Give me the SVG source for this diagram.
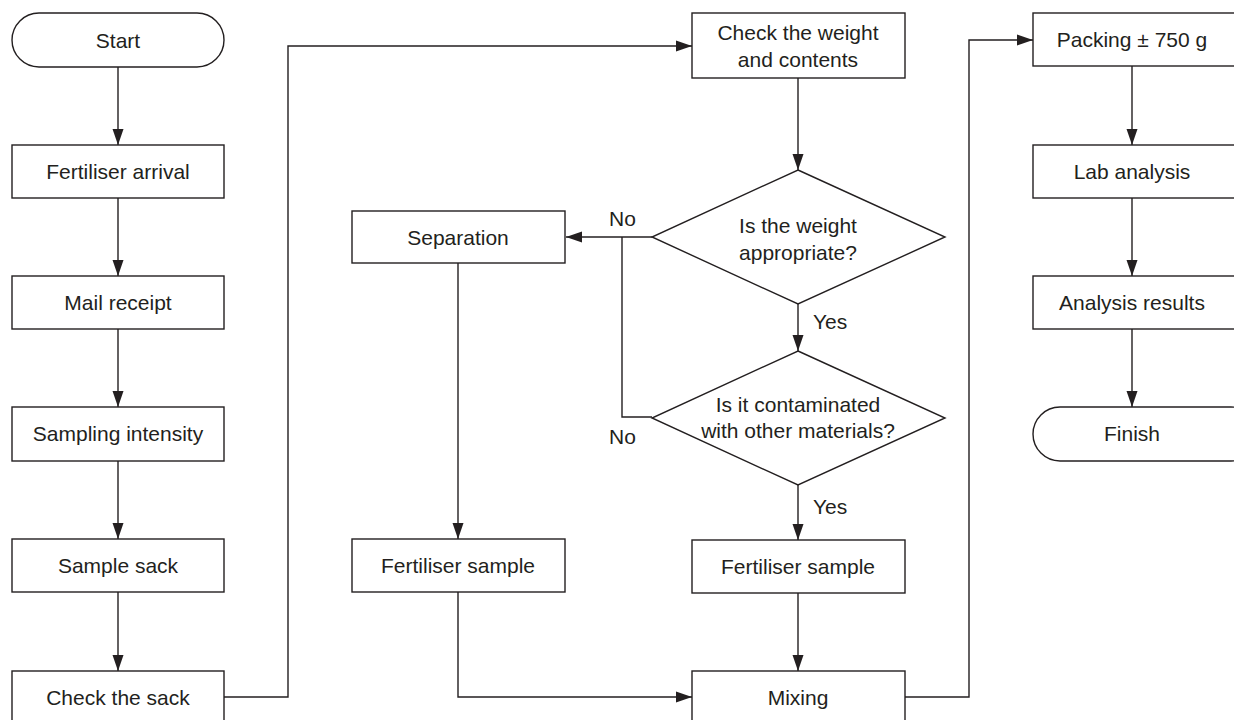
<svg xmlns="http://www.w3.org/2000/svg" width="1234" height="720" viewBox="0 0 1234 720">
<style>
.b{fill:#fff;stroke:#231f20;stroke-width:1.4}
.t{font-family:"Liberation Sans",Arial,sans-serif;font-size:21px;fill:#231f20;text-anchor:middle}
.l{font-family:"Liberation Sans",Arial,sans-serif;font-size:21px;fill:#231f20}
.c{fill:none;stroke:#231f20;stroke-width:1.4}
</style>
<defs>
<marker id="ah" markerUnits="userSpaceOnUse" markerWidth="16" markerHeight="12" refX="16" refY="6" orient="auto">
<path d="M0,0.5 L16,6 L0,11.5 Z" fill="#231f20"/>
</marker>
</defs>
<rect width="1234" height="720" fill="#fff"/>
<g id="connectors">
<line class="c" x1="118" y1="67" x2="118" y2="145" marker-end="url(#ah)"/>
<line class="c" x1="118" y1="198" x2="118" y2="276" marker-end="url(#ah)"/>
<line class="c" x1="118" y1="329" x2="118" y2="407" marker-end="url(#ah)"/>
<line class="c" x1="118" y1="461" x2="118" y2="539" marker-end="url(#ah)"/>
<line class="c" x1="118" y1="592" x2="118" y2="671" marker-end="url(#ah)"/>
<polyline class="c" points="224,697 288,697 288,46 692,46" marker-end="url(#ah)"/>
<line class="c" x1="798" y1="78" x2="798" y2="170" marker-end="url(#ah)"/>
<line class="c" x1="652" y1="237" x2="566" y2="237" marker-end="url(#ah)"/>
<polyline class="c" points="652,417 622,417 622,237"/>
<line class="c" x1="798" y1="304" x2="798" y2="351" marker-end="url(#ah)"/>
<line class="c" x1="798" y1="485" x2="798" y2="540" marker-end="url(#ah)"/>
<line class="c" x1="798" y1="593" x2="798" y2="671" marker-end="url(#ah)"/>
<line class="c" x1="458" y1="263" x2="458" y2="539" marker-end="url(#ah)"/>
<polyline class="c" points="458,592 458,697 692,697" marker-end="url(#ah)"/>
<polyline class="c" points="905,697 969,697 969,40 1033,40" marker-end="url(#ah)"/>
<line class="c" x1="1132" y1="66" x2="1132" y2="145" marker-end="url(#ah)"/>
<line class="c" x1="1132" y1="198" x2="1132" y2="276" marker-end="url(#ah)"/>
<line class="c" x1="1132" y1="329" x2="1132" y2="407" marker-end="url(#ah)"/>
<text class="l" x="609" y="226">No</text>
<text class="l" x="609" y="444">No</text>
<text class="l" x="813" y="329">Yes</text>
<text class="l" x="813" y="514">Yes</text>
</g>
<g id="start"><rect class="b" x="12" y="13" width="212" height="54" rx="27"/><text class="t" x="118" y="48">Start</text></g>
<g id="arrival"><rect class="b" x="12" y="145" width="212" height="53"/><text class="t" x="118" y="179">Fertiliser arrival</text></g>
<g id="mail"><rect class="b" x="12" y="276" width="212" height="53"/><text class="t" x="118" y="310">Mail receipt</text></g>
<g id="intensity"><rect class="b" x="12" y="407" width="212" height="54"/><text class="t" x="118" y="441">Sampling intensity</text></g>
<g id="sack"><rect class="b" x="12" y="539" width="212" height="53"/><text class="t" x="118" y="573">Sample sack</text></g>
<g id="checksack"><rect class="b" x="12" y="671" width="212" height="53"/><text class="t" x="118" y="705">Check the sack</text></g>
<g id="checkweight"><rect class="b" x="692" y="13" width="213" height="65"/><text class="t" x="798" y="40">Check the weight</text><text class="t" x="798" y="67">and contents</text></g>
<g id="weight"><polygon class="b" points="798,170 945,237 798,304 652,237"/><text class="t" x="798" y="233">Is the weight</text><text class="t" x="798" y="260">appropriate?</text></g>
<g id="contaminated"><polygon class="b" points="798,351 945,418 798,485 652,418"/><text class="t" x="798" y="412">Is it contaminated</text><text class="t" x="798" y="438">with other materials?</text></g>
<g id="separation"><rect class="b" x="352" y="211" width="213" height="52"/><text class="t" x="458" y="245">Separation</text></g>
<g id="sample1"><rect class="b" x="352" y="539" width="213" height="53"/><text class="t" x="458" y="573">Fertiliser sample</text></g>
<g id="sample2"><rect class="b" x="692" y="540" width="213" height="53"/><text class="t" x="798" y="574">Fertiliser sample</text></g>
<g id="mixing"><rect class="b" x="692" y="671" width="213" height="53"/><text class="t" x="798" y="705">Mixing</text></g>
<g id="packing"><rect class="b" x="1033" y="13" width="215" height="53"/><text class="t" x="1132" y="47">Packing ± 750 g</text></g>
<g id="lab"><rect class="b" x="1033" y="145" width="215" height="53"/><text class="t" x="1132" y="179">Lab analysis</text></g>
<g id="results"><rect class="b" x="1033" y="276" width="215" height="53"/><text class="t" x="1132" y="310">Analysis results</text></g>
<g id="finish"><rect class="b" x="1033" y="407" width="225" height="54" rx="27"/><text class="t" x="1132" y="441">Finish</text></g>
</svg>
